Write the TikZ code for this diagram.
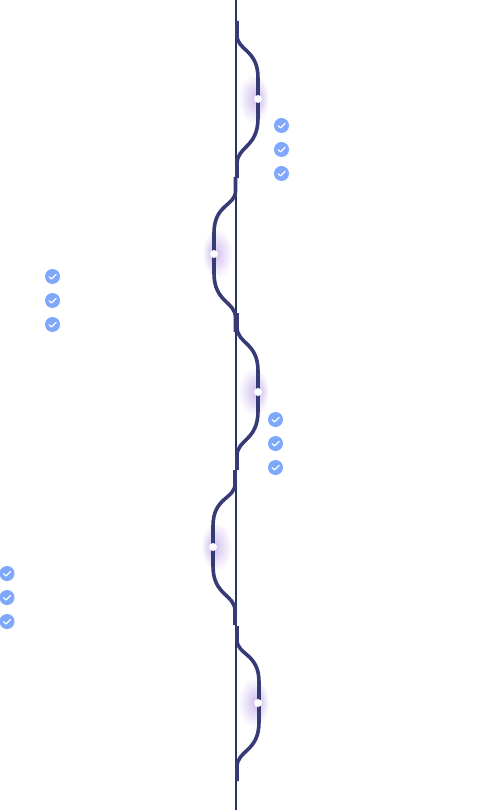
\documentclass[tikz,border=0pt]{standalone}
\usetikzlibrary{calc}
\definecolor{axiscol}{HTML}{2B3468}
\definecolor{wavecol}{HTML}{363A75}
\definecolor{checkcol}{HTML}{7FA7FB}
\definecolor{glowcol}{HTML}{A070E6}
\tikzset{
  wave/.style={draw=wavecol,line width=3.6pt,line cap=butt},
  axisline/.style={draw=axiscol,line width=1.6pt},
  dotnode/.style={circle,fill=white,inner sep=0pt,minimum size=8pt},
  checknode/.style={circle,fill=checkcol,inner sep=0pt,minimum size=15pt},
  tick/.style={draw=white,line width=1.2pt,line cap=round,line join=round},
  glowlayer/.style={fill=glowcol,opacity=0.028,draw=none}
}
% dot x, dot y, x shift of the outermost ellipse
\newcommand{\glowat}[3]{%
  \foreach \t in {1,...,24}{%
    \pgfmathsetmacro{\f}{pow(\t/24,1.7)}%
    \fill[glowlayer] ({#1+(#3)*\f},#2) ellipse [x radius={1+14*\f},y radius={1+23*\f}];%
  }}
\newcommand{\wavepath}[5]{%
  \draw[wave] (#1,#4) -- (#1,#4+14)
    .. controls (#1,#3-48) and (#2,#3-50) .. (#2,#3-21)
    -- (#2,#3+19)
    .. controls (#2,#3+49) and (#1,#3+47) .. (#1,#5-14)
    -- (#1,#5);}
\newcommand{\checkat}[3]{%
  \node[checknode] (#1) at (#2,#3) {};
  \draw[tick] ($(#1)+(-3.4,0.2)$) -- ($(#1)+(-1,2.5)$) -- ($(#1)+(3.6,-2.2)$);}
\begin{document}
\begin{tikzpicture}[x=1pt,y=-1pt]
\useasboundingbox[fill=white] (0,0) rectangle (492,810);
\glowat{258}{99}{-4}\glowat{214}{254}{4}\glowat{258}{392}{-4}\glowat{213}{547}{4}\glowat{258}{703}{-4}
\coordinate (axtop) at (236,0);
\coordinate (axbot) at (236,810);
\draw[axisline] (axtop) -- (axbot);
\wavepath{237}{258}{99}{21}{178}
\wavepath{235.5}{214}{254}{177}{332}
\wavepath{237}{258}{392}{313}{470}
\wavepath{235}{213}{547}{470}{625}
\wavepath{237}{259}{703}{626}{781}
\node[dotnode] (d1) at (258,99) {};
\node[dotnode] (d2) at (214,254) {};
\node[dotnode] (d3) at (258,392) {};
\node[dotnode] (d4) at (213,547) {};
\node[dotnode] (d5) at (258,703) {};
\checkat{a1}{281.5}{125.5}\checkat{a2}{281.5}{149.5}\checkat{a3}{281.5}{173.5}
\checkat{b1}{52.5}{276.5}\checkat{b2}{52.5}{300.5}\checkat{b3}{52.5}{324.5}
\checkat{c1}{275.5}{419.5}\checkat{c2}{275.5}{443.5}\checkat{c3}{275.5}{467.5}
\checkat{e1}{7}{573.5}\checkat{e2}{7}{597.5}\checkat{e3}{7}{621.5}
\end{tikzpicture}
\end{document}
